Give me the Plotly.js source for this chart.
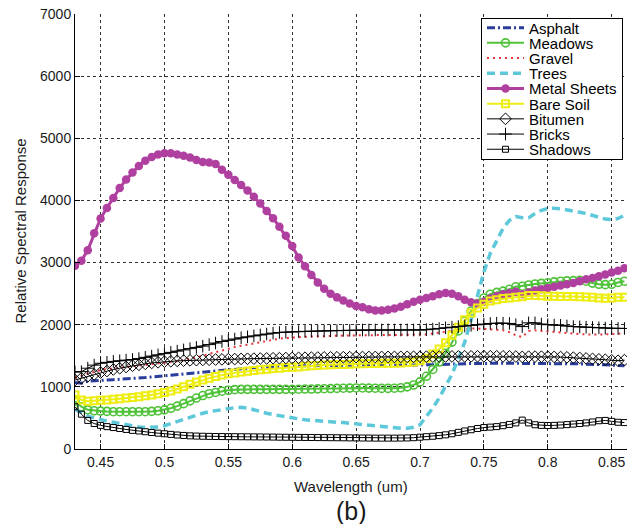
<!DOCTYPE html>
<html>
<head>
<meta charset="utf-8">
<script src="https://cdn.plot.ly/plotly-3.0.1.min.js"></script>
<style>
html,body{margin:0;padding:0;background:#fff;}
#chart{width:631px;height:524px;}
</style>
</head>
<body>
<div id="chart"></div>
<script>
const wavelength = [
0.430,0.435,0.440,0.445,0.450,0.455,0.460,0.465,0.470,0.475,
0.480,0.485,0.490,0.495,0.500,0.505,0.510,0.515,0.520,0.525,
0.530,0.535,0.540,0.545,0.550,0.555,0.560,0.565,0.570,0.575,
0.580,0.585,0.590,0.595,0.600,0.605,0.610,0.615,0.620,0.625,
0.630,0.635,0.640,0.645,0.650,0.655,0.660,0.665,0.670,0.675,
0.680,0.685,0.690,0.695,0.700,0.705,0.710,0.715,0.720,0.725,
0.730,0.735,0.740,0.745,0.750,0.755,0.760,0.765,0.770,0.775,
0.780,0.785,0.790,0.795,0.800,0.805,0.810,0.815,0.820,0.825,
0.830,0.835,0.840,0.845,0.850,0.855,0.860];

const asphalt = [
1070,1060,1090,1100,1105,1110,1115,1120,1125,1130,
1140,1150,1160,1170,1180,1190,1200,1210,1220,1230,
1240,1250,1255,1265,1275,1285,1295,1300,1310,1315,
1320,1325,1330,1330,1335,1335,1340,1340,1345,1345,
1345,1345,1345,1345,1345,1345,1345,1345,1345,1345,
1345,1345,1345,1345,1345,1350,1355,1360,1365,1370,
1375,1375,1375,1375,1380,1380,1380,1380,1380,1380,
1375,1380,1380,1380,1380,1380,1375,1375,1370,1370,
1365,1365,1360,1355,1350,1345,1340];

const meadows = [
770,680,630,615,610,605,600,600,600,600,
600,600,605,615,630,655,690,730,775,820,
860,890,910,930,945,955,960,960,960,960,
960,960,960,960,960,962,965,965,968,970,
972,975,978,980,982,982,980,978,975,975,
978,985,1000,1030,1080,1170,1280,1400,1540,1720,
1900,2060,2220,2340,2430,2490,2520,2540,2570,2610,
2620,2640,2655,2665,2675,2690,2700,2705,2710,2715,
2700,2670,2650,2645,2650,2680,2700];

const gravel = [
1150,1180,1220,1250,1270,1285,1300,1310,1320,1330,
1340,1350,1360,1370,1380,1395,1410,1430,1450,1475,
1500,1530,1560,1590,1615,1640,1660,1680,1700,1720,
1740,1760,1775,1785,1795,1800,1805,1810,1815,1818,
1820,1822,1825,1827,1830,1830,1832,1833,1834,1835,
1835,1835,1835,1835,1835,1845,1860,1875,1890,1905,
1920,1935,1940,1940,1930,1920,1915,1910,1880,1830,
1800,1900,1910,1900,1890,1880,1870,1860,1855,1850,
1845,1840,1840,1845,1850,1855,1860];

const trees = [
640,580,530,500,470,450,430,410,390,370,
355,345,345,355,375,410,445,480,515,545,
575,600,620,635,650,665,670,660,630,600,
575,555,535,515,500,485,470,460,450,440,
435,430,425,415,405,390,375,365,355,345,
340,335,335,350,390,520,660,820,1000,1200,
1450,1720,2080,2480,2850,3150,3350,3550,3680,3740,
3720,3720,3790,3840,3870,3875,3865,3850,3830,3810,
3790,3760,3720,3700,3690,3710,3760];

const metalSheets = [
2950,3030,3200,3470,3710,3880,4040,4200,4335,4450,
4555,4640,4700,4740,4760,4760,4740,4720,4690,4650,
4620,4610,4585,4495,4415,4330,4250,4160,4060,3950,
3830,3715,3575,3430,3265,3080,2940,2800,2680,2580,
2500,2440,2390,2340,2300,2280,2250,2230,2230,2240,
2260,2290,2330,2370,2400,2430,2460,2490,2510,2500,
2460,2400,2360,2340,2370,2420,2460,2490,2510,2530,
2490,2520,2550,2570,2590,2610,2630,2650,2670,2700,
2730,2750,2780,2810,2840,2870,2910];

const bareSoil = [
870,790,770,775,785,790,800,810,820,830,
840,855,870,890,910,935,965,1000,1040,1080,
1110,1140,1165,1190,1210,1225,1240,1250,1265,1275,
1285,1295,1300,1310,1315,1320,1330,1340,1345,1350,
1355,1360,1360,1365,1370,1370,1375,1375,1380,1380,
1380,1385,1390,1400,1420,1460,1530,1610,1710,1830,
1960,2080,2190,2270,2330,2380,2400,2420,2430,2440,
2450,2470,2470,2465,2460,2460,2455,2455,2455,2450,
2445,2440,2430,2425,2430,2440,2440];

const bitumen = [
1110,1140,1170,1200,1230,1255,1280,1300,1320,1340,
1355,1370,1385,1395,1405,1412,1418,1422,1426,1430,
1433,1436,1440,1442,1445,1447,1450,1452,1454,1456,
1458,1460,1462,1464,1465,1467,1469,1470,1472,1474,
1475,1476,1477,1478,1479,1480,1480,1481,1481,1482,
1482,1483,1483,1484,1485,1486,1487,1488,1489,1490,
1490,1491,1491,1492,1492,1492,1492,1491,1490,1488,
1482,1486,1487,1486,1484,1482,1479,1475,1470,1465,
1458,1450,1443,1436,1428,1420,1430];

const bricks = [
1240,1245,1300,1350,1380,1395,1410,1420,1430,1440,
1455,1475,1495,1515,1535,1555,1575,1595,1615,1635,
1655,1680,1705,1730,1750,1770,1790,1805,1820,1835,
1850,1865,1875,1880,1885,1890,1893,1896,1898,1900,
1903,1905,1908,1910,1912,1914,1915,1915,1915,1915,
1915,1915,1915,1915,1915,1920,1930,1940,1950,1960,
1970,1980,1990,2000,2010,2020,2025,2025,2020,2000,
1970,2030,2030,2010,2000,1995,1990,1980,1970,1965,
1960,1955,1950,1945,1940,1940,1940];

const shadows = [
680,560,460,410,380,360,345,330,315,300,
290,278,265,255,245,235,225,218,212,208,
205,203,201,200,199,198,197,196,195,194,
193,192,190,189,188,187,186,185,184,183,
182,181,180,179,178,177,176,175,175,175,
175,176,178,182,190,198,205,215,228,245,
268,290,310,330,345,352,360,375,395,420,
465,420,390,380,378,380,385,392,400,410,
420,435,455,460,445,430,425];

const xTickVals = [0.45,0.5,0.55,0.6,0.65,0.7,0.75,0.8,0.85];
const xTickText = ['0.45','0.5','0.55','0.6','0.65','0.7','0.75','0.8','0.85'];
const yTickVals = [0,1000,2000,3000,4000,5000,6000,7000];

const FONT = 'Liberation Sans, Arial, Helvetica, sans-serif';
const TXT = '#1a1a1a';

const data = [
  {name:'Asphalt', x:wavelength, y:asphalt, mode:'lines',
   line:{color:'#2b3d9c', width:3, dash:'8px,3px,2px,3px'}},
  {name:'Meadows', x:wavelength, y:meadows, mode:'lines+markers',
   line:{color:'#4fc23a', width:2},
   marker:{symbol:'circle-open', size:8, color:'#4fc23a', line:{width:1.6, color:'#4fc23a'}}},
  {name:'Gravel', x:wavelength, y:gravel, mode:'lines',
   line:{color:'#e8343c', width:2, dash:'2px,4px'}},
  {name:'Trees', x:wavelength, y:trees, mode:'lines',
   line:{color:'#5cc8da', width:3.5, dash:'8px,5px'}},
  {name:'Metal Sheets', x:wavelength, y:metalSheets, mode:'lines+markers',
   line:{color:'#b0409f', width:3},
   marker:{symbol:'circle', size:8.5, color:'#b0409f'}},
  {name:'Bare Soil', x:wavelength, y:bareSoil, mode:'lines+markers',
   line:{color:'#eded12', width:2},
   marker:{symbol:'square-open', size:7, color:'#eded12', line:{width:2, color:'#eded12'}}},
  {name:'Bitumen', x:wavelength, y:bitumen, mode:'lines+markers',
   line:{color:'#000', width:1},
   marker:{symbol:'diamond-open', size:9, color:'#000', line:{width:1, color:'#000'}}},
  {name:'Bricks', x:wavelength, y:bricks, mode:'lines+markers',
   line:{color:'#000', width:1},
   marker:{symbol:'cross-thin-open', size:9, color:'#000', line:{width:1, color:'#000'}}},
  {name:'Shadows', x:wavelength, y:shadows, mode:'lines+markers',
   line:{color:'#000', width:1},
   marker:{symbol:'square-open', size:6, color:'#000', line:{width:1, color:'#000'}}}
];

const layout = {
  width:631, height:524,
  margin:{l:75, r:4, t:14, b:75, pad:0},
  paper_bgcolor:'#fff', plot_bgcolor:'#fff',
  font:{family:FONT, size:14, color:TXT},
  showlegend:true,
  legend:{x:0.7355, y:0.9908, xanchor:'left', yanchor:'top',
    bgcolor:'#fff', bordercolor:'#000', borderwidth:1, itemwidth:37,
    font:{family:FONT, size:15, color:'#000'}, tracegroupgap:0},
  xaxis:{range:[0.43,0.862], tickvals:xTickVals, ticktext:xTickText,
    ticks:'inside', ticklen:5, tickcolor:'#000', tickwidth:1,
    showline:true, linecolor:'#000', linewidth:1, mirror:false,
    showgrid:true, gridcolor:'#333', gridwidth:1, griddash:'dot',
    zeroline:false, tickfont:{family:FONT, size:14, color:TXT}},
  yaxis:{range:[0,7000], tickvals:yTickVals,
    ticks:'inside', ticklen:5, tickcolor:'#000', tickwidth:1,
    showline:true, linecolor:'#000', linewidth:1, mirror:false,
    showgrid:true, gridcolor:'#333', gridwidth:1, griddash:'dot',
    zeroline:false, tickfont:{family:FONT, size:14, color:TXT}},
  annotations:[
    {text:'Wavelength (um)', xref:'paper', yref:'paper', x:0.5, y:-0.087,
     xanchor:'center', yanchor:'middle', showarrow:false,
     font:{family:FONT, size:15, color:TXT}},
    {text:'Relative Spectral Response', xref:'paper', yref:'paper', x:-0.0996, y:0.5,
     xanchor:'center', yanchor:'middle', textangle:-90, showarrow:false,
     font:{family:FONT, size:15, color:TXT}},
    {text:'(b)', xref:'paper', yref:'paper', x:0.5, y:-0.1425,
     xanchor:'center', yanchor:'middle', showarrow:false,
     font:{family:FONT, size:25, color:TXT}}
  ]
};

const gd = document.getElementById('chart');
Plotly.newPlot(gd, data, layout, {staticPlot:true, displayModeBar:false}).then(function(){
  try {
    const bg = gd.querySelector('.legend .bg');
    const items = gd.querySelectorAll('.legend .traces');
    if (!bg || items.length < 2) return;
    const boxTop = bg.getBoundingClientRect().top;
    const step = 15.2, first = 9.5;
    items.forEach(function(el, i){
      const t = el.querySelector('text.legendtext');
      const r = (t || el).getBoundingClientRect();
      const cur = (r.top + r.bottom) / 2;
      const want = boxTop + first + i * step;
      el.setAttribute('transform', (el.getAttribute('transform') || '') + ' translate(0,' + (want - cur).toFixed(2) + ')');
    });
    bg.setAttribute('height', (first * 2 + step * (items.length - 1)).toFixed(1));
  } catch (e) {}
});
</script>
</body>
</html>
